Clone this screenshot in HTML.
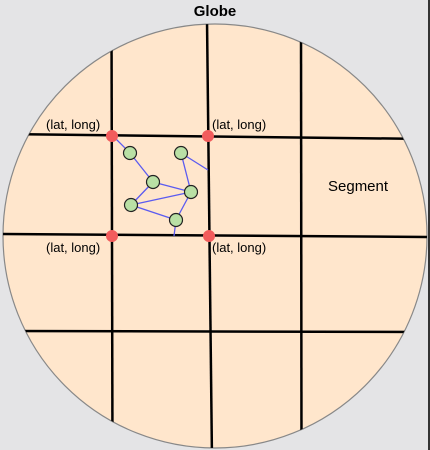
<!DOCTYPE html>
<html><head><meta charset="utf-8"><style>
html,body{margin:0;padding:0;background:#e4e4e6;}
svg{display:block;font-family:"Liberation Sans",sans-serif;}
</style></head><body>
<svg width="430" height="450" viewBox="0 0 430 450">
<defs><clipPath id="c"><circle cx="215" cy="236" r="212"/></clipPath></defs>
<rect x="428" y="0" width="2" height="450" fill="#333"/>
<text x="215" y="16" text-anchor="middle" font-size="15" font-weight="bold" fill="#000">Globe</text>
<circle cx="215" cy="236" r="212" fill="#ffe6cc" stroke="#888" stroke-width="1.2"/>
<g clip-path="url(#c)" stroke="#000" stroke-width="2.5">
<line x1="111.5" y1="20" x2="112.5" y2="460"/>
<line x1="207" y1="20" x2="212" y2="460"/>
<line x1="301" y1="20" x2="301.5" y2="460"/>
<line x1="0" y1="134" x2="430" y2="139"/>
<line x1="0" y1="234" x2="430" y2="237"/>
<line x1="0" y1="331" x2="430" y2="332"/>
</g>
<g stroke="#5b5bf0" stroke-width="1.3">
<line x1="112" y1="135" x2="130" y2="153"/>
<line x1="130" y1="153" x2="153" y2="182"/>
<line x1="153" y1="182" x2="191" y2="192"/>
<line x1="153" y1="182" x2="131" y2="205"/>
<line x1="131" y1="205" x2="191" y2="192"/>
<line x1="131" y1="205" x2="176" y2="220"/>
<line x1="176" y1="220" x2="191" y2="192"/>
<line x1="181" y1="153" x2="191" y2="192"/>
<line x1="181" y1="153" x2="208" y2="170"/>
<line x1="176" y1="220" x2="174" y2="236"/>
</g>
<g fill="#b9e0a5" stroke="#222" stroke-width="1.2">
<circle cx="130" cy="153" r="6.5"/><circle cx="181" cy="153" r="6.5"/>
<circle cx="153" cy="182" r="6.5"/><circle cx="191" cy="192" r="6.5"/>
<circle cx="131" cy="205" r="6.5"/><circle cx="176" cy="220" r="6.5"/>
</g>
<g fill="#f25c5c">
<circle cx="112" cy="136" r="6"/><circle cx="208" cy="136" r="6"/>
<circle cx="112" cy="236" r="6"/><circle cx="209" cy="236" r="6"/>
</g>
<g font-size="13" fill="#000">
<text x="46" y="129">(lat, long)</text>
<text x="212" y="129">(lat, long)</text>
<text x="46" y="252">(lat, long)</text>
<text x="212" y="252">(lat, long)</text>
</g>
<text x="328" y="191" font-size="15" fill="#000">Segment</text>
</svg>
</body></html>
